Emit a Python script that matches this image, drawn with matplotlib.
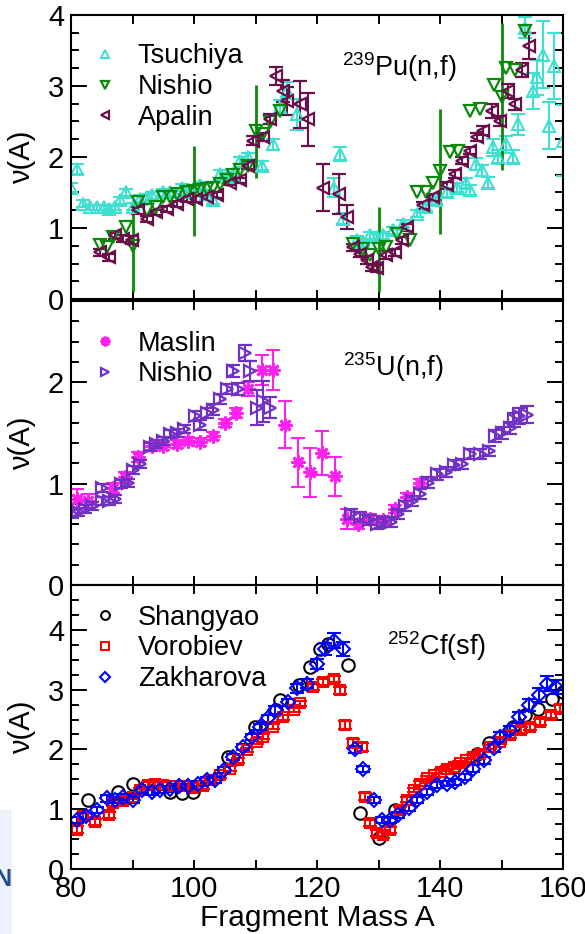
import matplotlib
matplotlib.use("Agg")
import matplotlib.pyplot as plt
from matplotlib.ticker import MultipleLocator, FuncFormatter
from matplotlib.patches import Rectangle

plt.rcParams['font.family'] = ['Liberation Sans', 'DejaVu Sans']
plt.rcParams['mathtext.fontset'] = 'custom'
plt.rcParams['mathtext.rm'] = 'Liberation Sans'
plt.rcParams['mathtext.it'] = 'Liberation Sans'
plt.rcParams['mathtext.bf'] = 'Liberation Sans'

# ---------------- data: 239Pu(n,f) ----------------
tsu_A = [80.0, 80.9, 82.0, 83.1, 84.2, 85.3, 86.1, 87.2, 88.0, 89.0, 90.0, 91.2, 92.3, 93.1, 95.0,
         96.1, 98.0, 98.8, 101.0, 102.0, 103.1, 104.2, 105.3, 106.4, 107.5, 108.8, 111.0, 112.9,
         114.0, 115.1, 116.7, 122.7, 123.7, 124.3, 126.5, 127.5, 128.6, 129.7, 130.8, 132.4, 134.0,
         136.2, 137.8, 139.4, 141.1, 142.7, 144.3, 144.9, 145.9, 146.8, 147.8, 148.6, 149.5, 150.8,
         151.9, 152.7, 153.8, 155.2, 155.7, 156.8, 157.8, 158.6, 160.0]
tsu_v = [1.57, 1.83, 1.34, 1.29, 1.29, 1.29, 1.27, 1.29, 1.39, 1.50, 1.30, 1.41, 1.43, 1.46, 1.50,
         1.50, 1.57, 1.50, 1.60, 1.48, 1.39, 1.76, 1.72, 1.74, 1.95, 2.00, 1.88, 2.18,
         2.70, 2.93, 2.60, 1.57, 2.04, 1.13, 0.83, 0.80, 0.90, 0.87, 0.90, 0.97, 1.06,
         1.20, 1.29, 1.39, 1.50, 1.57, 1.64, 1.53, 1.90, 1.81, 1.64, 2.14, 2.00, 2.18,
         2.00, 2.46, 3.82, 2.93, 3.12, 3.44, 2.44, 3.28, 2.23]
tsu_e = [0.06, 0.07, 0.05, 0.04, 0.04, 0.04, 0.04, 0.04, 0.05, 0.05, 0.05, 0.05, 0.05, 0.05, 0.05,
         0.05, 0.05, 0.05, 0.05, 0.05, 0.05, 0.05, 0.05, 0.05, 0.05, 0.05, 0.06, 0.08,
         0.10, 0.12, 0.22, 0.14, 0.10, 0.08, 0.06, 0.05, 0.05, 0.05, 0.05, 0.05, 0.05,
         0.05, 0.05, 0.05, 0.06, 0.06, 0.07, 0.07, 0.08, 0.08, 0.08, 0.12, 0.10, 0.12,
         0.10, 0.15, 0.15, 0.26, 0.25, 0.47, 0.33, 0.47, 0.50]

nis_A = [84.7, 85.8, 86.9, 88.9, 90.0, 90.9, 92.3, 93.9, 95.0, 96.1, 97.2, 98.8, 100.0, 101.0,
         102.1, 103.1, 104.2, 105.3, 106.4, 107.5, 108.8, 110.0, 111.3, 112.4, 114.0, 125.9,
         127.5, 128.6, 130.0, 131.3, 133.0, 135.1, 136.2, 137.8, 138.9, 140.0, 141.6, 142.9,
         144.9, 146.5, 148.7, 150.0, 150.8, 152.2, 153.8]
nis_v = [0.76, 0.73, 0.87, 1.01, 0.75, 1.36, 1.25, 1.29, 1.43, 1.43, 1.48, 1.50, 1.52, 1.53,
         1.55, 1.57, 1.62, 1.67, 1.74, 1.81, 1.88, 2.36, 2.32, 2.49, 2.65, 0.78,
         0.71, 0.62, 0.70, 0.73, 0.92, 0.83, 1.50, 1.50, 1.64, 1.80, 2.07, 2.09,
         2.65, 2.67, 3.02, 2.85, 3.26, 3.23, 3.77]
nis_e = [0, 0, 0, 0, 0.65, 0, 0, 0, 0, 0, 0, 0, 0.63, 0,
         0, 0, 0, 0, 0, 0, 0, 0.66, 0, 0, 0, 0,
         0, 0, 0.60, 0, 0, 0, 0, 0, 0, 0.88, 0, 0,
         0, 0, 0, 1.04, 0, 0, 0]

apa_A = [84.7, 86.1, 87.2, 88.5, 89.9, 90.9, 92.3, 93.9, 95.6, 97.2, 98.8, 100.4, 102.1, 103.7,
         105.9, 107.5, 108.8, 109.6, 111.3, 112.4, 113.4, 114.5, 115.1, 117.2, 118.6, 121.0,
         123.5, 124.8, 125.9, 127.0, 128.1, 128.9, 129.7, 131.3, 132.7, 133.8, 134.6, 137.3,
         138.9, 141.1, 142.4, 143.5, 144.9, 146.0, 147.0, 148.4, 149.8, 151.1, 152.2, 153.3, 154.4]
apa_v = [0.66, 0.59, 0.90, 0.85, 0.83, 1.25, 1.13, 1.22, 1.27, 1.34, 1.41, 1.41, 1.43, 1.46,
         1.64, 1.67, 1.88, 2.23, 2.28, 2.53, 3.14, 2.93, 2.79, 2.74, 2.53, 1.57,
         1.48, 1.15, 0.73, 0.64, 0.55, 0.45, 0.43, 0.62, 0.66, 0.83, 1.01, 1.32,
         1.43, 1.60, 1.76, 1.95, 2.09, 2.28, 2.37, 2.65, 2.51, 2.93, 2.74, 3.23, 3.56]
apa_e = [0.05, 0.05, 0.05, 0.05, 0.06, 0.05, 0.04, 0.04, 0.04, 0.04, 0.04, 0.04, 0.04, 0.04,
         0.04, 0.04, 0.05, 0.06, 0.06, 0.07, 0.13, 0.15, 0.20, 0.33, 0.37, 0.33,
         0.28, 0.17, 0.05, 0.05, 0.05, 0.05, 0.05, 0.05, 0.05, 0.05, 0.05, 0.05,
         0.05, 0.05, 0.05, 0.05, 0.05, 0.06, 0.06, 0.10, 0.07, 0.10, 0.08, 0.10, 0.18]

# ---------------- data: 235U(n,f) ----------------
mas_A = [80.9, 82.8, 86.9, 88.8, 90.9, 93.1, 95.0, 97.2, 99.1, 101.0, 103.1, 105.0, 106.9, 108.8,
         111.0, 112.9, 114.8, 116.9, 118.9, 120.8, 122.9, 124.8, 126.7, 128.6, 130.8, 132.7,
         134.6, 136.8]
mas_v = [0.85, 0.83, 0.96, 1.06, 1.26, 1.37, 1.37, 1.39, 1.42, 1.41, 1.47, 1.60, 1.70, 1.93,
         2.12, 2.12, 1.58, 1.21, 1.11, 1.30, 1.07, 0.65, 0.60, 0.65, 0.64, 0.75,
         0.87, 1.01]
mas_e = [0.10, 0.07, 0.05, 0.05, 0.05, 0.04, 0.04, 0.04, 0.04, 0.04, 0.04, 0.04, 0.05, 0.07,
         0.15, 0.20, 0.23, 0.24, 0.24, 0.22, 0.19, 0.10, 0.05, 0.05, 0.04, 0.04,
         0.04, 0.04]

nu_A = [80.1, 81.2, 82.3, 83.4, 85.0, 85.0, 86.1, 87.2, 88.2, 89.3, 90.1, 91.2, 92.8, 93.9, 95.0,
        96.1, 97.2, 98.3, 100.2, 101.0, 102.1, 103.1, 104.2, 105.3, 106.4, 107.2, 108.3, 109.1,
        110.2, 111.3, 112.4, 125.6, 127.0, 128.4, 129.7, 130.8, 132.1, 133.2, 134.3, 135.4,
        136.8, 138.1, 139.5, 140.9, 142.2, 143.5, 144.9, 146.5, 147.9, 149.0, 150.1, 151.4,
        152.0, 152.8, 154.1]
nu_v = [0.70, 0.72, 0.75, 0.78, 0.96, 0.83, 0.83, 0.85, 1.00, 1.01, 1.13, 1.19, 1.36, 1.39, 1.42,
        1.49, 1.50, 1.54, 1.67, 1.58, 1.70, 1.73, 1.83, 1.93, 2.11, 1.93, 2.29, 2.11,
        1.75, 1.81, 1.75, 0.70, 0.67, 0.64, 0.60, 0.62, 0.62, 0.70, 0.78, 0.83,
        0.90, 1.01, 1.09, 1.11, 1.18, 1.19, 1.29, 1.29, 1.32, 1.47, 1.50, 1.55,
        1.63, 1.67, 1.68]
nu_e = [0.04, 0.04, 0.04, 0.04, 0.04, 0.04, 0.04, 0.04, 0.04, 0.04, 0.04, 0.04, 0.04, 0.04, 0.04,
        0.04, 0.04, 0.04, 0.05, 0.05, 0.05, 0.05, 0.05, 0.05, 0.06, 0.06, 0.08, 0.10,
        0.17, 0.20, 0.10, 0.05, 0.05, 0.05, 0.05, 0.05, 0.05, 0.05, 0.05, 0.05,
        0.05, 0.05, 0.05, 0.05, 0.05, 0.05, 0.05, 0.05, 0.05, 0.06, 0.06, 0.06,
        0.07, 0.08, 0.08]

# ---------------- data: 252Cf(sf) ----------------
sha_A = [82.8, 87.7, 90.1, 96.1, 98.0, 99.9, 105.6, 109.9, 113.4, 114.0, 117.0, 118.9, 120.5,
         121.8, 125.1, 127.0, 130.0, 132.7, 142.2, 146.0, 147.9, 151.9, 153.8, 156.0, 158.2, 160.0]
sha_v = [1.16, 1.29, 1.43, 1.29, 1.27, 1.29, 1.88, 2.38, 2.66, 2.82, 3.07, 3.38, 3.68,
         3.77, 3.41, 0.94, 0.52, 0.99, 1.71, 1.93, 2.10, 2.38, 2.57, 2.68, 2.85, 2.96]

vor_A = [80.9, 82.0, 83.9, 86.1, 86.9, 88.5, 90.1, 91.2, 92.6, 93.7, 95.0, 96.6, 98.3, 99.9, 101.5,
         102.6, 104.2, 105.9, 107.2, 108.6, 110.2, 111.3, 112.9, 114.5, 116.2, 117.2, 119.4,
         121.0, 122.7, 123.7, 124.6, 125.9, 127.3, 127.8, 128.6, 129.7, 130.8, 131.9, 133.5,
         134.6, 135.7, 136.8, 137.9, 139.0, 140.1, 141.1, 142.2, 143.3, 144.3, 145.4, 146.5,
         148.1, 149.8, 151.4, 153.1, 154.7, 156.3, 158.0, 159.5]
vor_v = [0.66, 0.88, 0.79, 0.91, 1.10, 1.13, 1.21, 1.32, 1.41, 1.43, 1.41, 1.38, 1.38, 1.35, 1.38,
         1.49, 1.57, 1.68, 1.82, 1.99, 2.13, 2.21, 2.38, 2.54, 2.66, 2.77, 3.04,
         3.13, 3.18, 2.99, 2.41, 2.10, 2.04, 1.21, 0.77, 0.60, 0.57, 0.66, 0.99,
         1.16, 1.32, 1.43, 1.52, 1.57, 1.63, 1.68, 1.71, 1.77, 1.82, 1.88, 1.93,
         2.04, 2.13, 2.24, 2.32, 2.38, 2.46, 2.57, 2.68]
vor_e = [0.06, 0.05, 0.05, 0.05, 0.05, 0.05, 0.04, 0.04, 0.04, 0.04, 0.04, 0.04, 0.04, 0.04, 0.04,
         0.04, 0.04, 0.04, 0.04, 0.04, 0.04, 0.04, 0.04, 0.04, 0.04, 0.04, 0.05,
         0.05, 0.05, 0.06, 0.07, 0.07, 0.07, 0.06, 0.05, 0.05, 0.05, 0.05, 0.05,
         0.04, 0.04, 0.04, 0.04, 0.04, 0.04, 0.04, 0.04, 0.04, 0.04, 0.04, 0.04,
         0.04, 0.04, 0.05, 0.05, 0.05, 0.05, 0.05, 0.06]

zak_A = [80.9, 82.5, 84.2, 85.8, 87.2, 88.5, 90.1, 91.5, 93.1, 94.5, 96.1, 97.5, 99.1, 100.7,
         102.1, 103.4, 104.8, 106.4, 108.0, 109.4, 110.7, 112.1, 113.2, 115.3, 116.7, 118.3,
         120.0, 121.3, 122.7, 124.3, 126.2, 127.5, 129.2, 130.5, 131.9, 133.2, 134.9, 136.2,
         137.9, 139.5, 141.1, 142.5, 144.1, 145.4, 147.1, 148.7, 149.8, 151.4, 152.8, 154.4,
         156.1, 157.4, 158.8]
zak_v = [0.82, 0.88, 0.99, 1.18, 1.16, 1.21, 1.16, 1.32, 1.29, 1.32, 1.33, 1.38, 1.38, 1.43,
         1.49, 1.49, 1.66, 1.88, 2.04, 2.21, 2.38, 2.52, 2.66, 2.79, 3.02, 3.10,
         3.43, 3.68, 3.82, 3.68, 2.00, 1.68, 1.16, 0.82, 0.82, 0.91, 1.02, 1.16,
         1.29, 1.41, 1.43, 1.46, 1.54, 1.68, 1.82, 2.02, 2.21, 2.32, 2.54, 2.74,
         2.91, 3.10, 3.04]
zak_e = [0.05, 0.05, 0.05, 0.06, 0.05, 0.05, 0.05, 0.05, 0.05, 0.05, 0.05, 0.05, 0.05, 0.05,
         0.05, 0.05, 0.05, 0.05, 0.05, 0.05, 0.05, 0.06, 0.06, 0.06, 0.07, 0.07,
         0.08, 0.10, 0.12, 0.11, 0.06, 0.05, 0.05, 0.05, 0.05, 0.05, 0.05, 0.05,
         0.05, 0.05, 0.05, 0.05, 0.05, 0.06, 0.06, 0.07, 0.08, 0.08, 0.09, 0.10,
         0.12, 0.12, 0.12]

# ---------------- figure ----------------
W, H = 585, 934
fig = plt.figure(figsize=(W / 100, H / 100), dpi=100)

def fy(px):
    return 1 - px / H

left = 71 / W
width = (563 - 71) / W
panel_h = 284 / H
ax1 = fig.add_axes([left, fy(299), width, panel_h])
ax2 = fig.add_axes([left, fy(585), width, panel_h])
ax3 = fig.add_axes([left, fy(869), width, panel_h])

TICK_FS = 21
XLAB_FS = 21.5
LAB_FS = 21
LEG_FS = 19.5
ANN_FS = 19.5

def fmt_x(v, pos):
    iv = int(round(v))
    return str(iv) if iv % 20 == 0 else ''

def style(ax, ymax, yminor, show_x):
    ax.set_xlim(80, 160)
    ax.set_ylim(0, ymax)
    ax.xaxis.set_major_locator(MultipleLocator(10))
    ax.xaxis.set_major_formatter(FuncFormatter(fmt_x))
    ax.yaxis.set_major_locator(MultipleLocator(1))
    ax.yaxis.set_minor_locator(MultipleLocator(yminor))
    ax.tick_params(axis='both', which='both', direction='in', top=True, right=True,
                   width=1.4, labelsize=TICK_FS, colors='black')
    ax.tick_params(axis='y', which='major', length=11.5, pad=5)
    ax.tick_params(axis='y', which='minor', length=5.8)
    ax.tick_params(axis='x', which='major', length=6.5, pad=4)
    if not show_x:
        ax.tick_params(axis='x', labelbottom=False)
    for s in ax.spines.values():
        s.set_linewidth(1.5)
    ax.set_ylabel('ν(A)', fontsize=LAB_FS)
    ax.yaxis.set_label_coords(-0.072, 0.5)

EBW = 1.5
LEG_KW = dict(loc='upper left', frameon=False, fontsize=LEG_FS, handlelength=0.9,
              handletextpad=0.75, labelspacing=0.17, borderpad=0, borderaxespad=0,
              markerscale=0.7)

# top panel
e1 = ax1.errorbar(tsu_A, tsu_v, yerr=tsu_e, fmt='^', ms=8.5, mfc='none', mec='#40e0d0',
                  mew=1.5, ecolor='#40e0d0', elinewidth=EBW, capsize=5, capthick=EBW)
e2 = ax1.errorbar(nis_A, nis_v, yerr=nis_e, fmt='v', ms=8.5, mfc='none', mec='#0a8a0a',
                  mew=1.6, ecolor='#0a8a0a', elinewidth=2.0, capsize=0)
e3 = ax1.errorbar(apa_A, apa_v, yerr=apa_e, fmt='<', ms=8.5, mfc='none', mec='#6a0f4c',
                  mew=1.6, ecolor='#6a0f4c', elinewidth=EBW, capsize=5, capthick=EBW)
style(ax1, 4, 0.25, False)
ax1.legend(handles=[e1[0], e2[0], e3[0]], labels=['Tsuchiya', 'Nishio', 'Apalin'],
           bbox_to_anchor=(0.045, 0.90), **LEG_KW)
ax1.text(0.551, 0.785, r'$^{239}$Pu(n,f)', transform=ax1.transAxes, fontsize=ANN_FS,
         ha='left', va='baseline')

# middle panel
ax2.errorbar(mas_A, mas_v, yerr=mas_e, fmt='none', ecolor='#ff22ee',
             elinewidth=EBW, capsize=5, capthick=EBW)
m1p, = ax2.plot(mas_A, mas_v, ls='none', marker=(8, 2, 0), ms=10, mew=2.0,
                color='#ff22ee', mec='#ff22ee')
m2 = ax2.errorbar(nu_A, nu_v, yerr=nu_e, fmt='>', ms=8.5, mfc='none', mec='#7132c4',
                  mew=1.6, ecolor='#7132c4', elinewidth=EBW, capsize=5, capthick=EBW)
style(ax2, 2.8, 0.2, False)
ax2.legend(handles=[m1p, m2[0]], labels=['Maslin', 'Nishio'],
           bbox_to_anchor=(0.045, 0.895), **LEG_KW)
ax2.text(0.553, 0.735, r'$^{235}$U(n,f)', transform=ax2.transAxes, fontsize=ANN_FS,
         ha='left', va='baseline')

# bottom panel
b1, = ax3.plot(sha_A, sha_v, ls='none', marker='o', ms=9, mfc='none', mec='black', mew=1.5)
b2 = ax3.errorbar(vor_A, vor_v, yerr=vor_e, fmt='s', ms=7.5, mfc='none', mec='#ff0000',
                  mew=1.5, ecolor='#ff0000', elinewidth=EBW, capsize=5, capthick=EBW)
b3 = ax3.errorbar(zak_A, zak_v, yerr=zak_e, fmt='D', ms=7, mfc='none', mec='#0000ff',
                  mew=1.5, ecolor='#0000ff', elinewidth=EBW, capsize=5, capthick=EBW)
style(ax3, 4.75, 0.25, True)
ax3.set_xlabel('Fragment Mass A', fontsize=XLAB_FS, labelpad=1)
ax3.legend(handles=[b1, b2[0], b3[0]], labels=['Shangyao', 'Vorobiev', 'Zakharova'],
           bbox_to_anchor=(0.045, 0.93), **LEG_KW)
ax3.text(0.642, 0.755, r'$^{252}$Cf(sf)', transform=ax3.transAxes, fontsize=ANN_FS,
         ha='left', va='baseline')

# slide background fragment at lower left
fig.patches.append(Rectangle((0, 0), 12 / W, (934 - 810) / H, transform=fig.transFigure,
                             facecolor='#edf2fb', edgecolor='none', zorder=0))
fig.text(12 / W, fy(879), 'N', ha='right', va='center', color='#1f4e8a',
         fontsize=17, fontweight='bold')

fig.savefig('out.png', dpi=100)
